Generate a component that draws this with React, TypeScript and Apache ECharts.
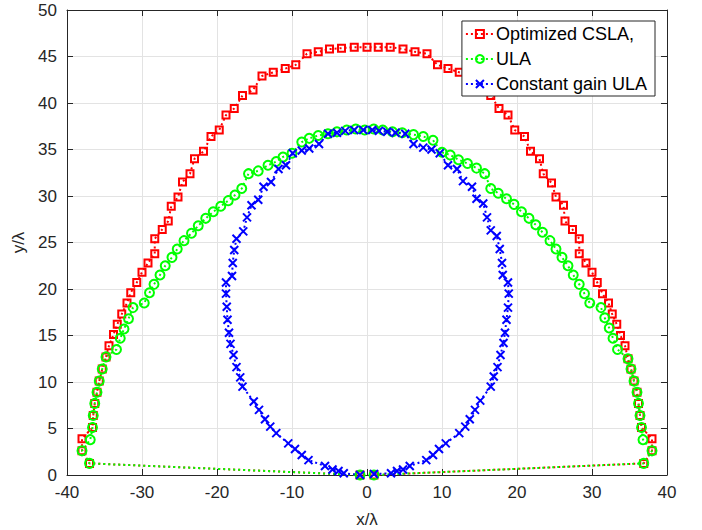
import React, { useEffect, useRef } from "react";
import * as echarts from "echarts";

const xTicks = { min: -40, max: 40, step: 10 };
const yTicks = { min: 0, max: 50, step: 5 };

const seriesNames = ["Optimized CSLA,", "ULA", "Constant gain ULA"];

const cslaPoints: number[][] = [
  [-0.93, 0], [-37.0, 1.25], [-38.0, 2.6], [-38.0, 3.9], [-36.6, 5.1], [-36.5, 6.4], [-36.3, 7.7], [-36.0, 8.9],
  [-35.7, 10.1], [-35.3, 11.4], [-34.8, 12.7], [-34.4, 13.9], [-33.8, 15.1], [-33.3, 16.2], [-32.7, 17.3],
  [-32.0, 18.5], [-31.5, 19.6], [-30.7, 20.7], [-30.0, 21.8], [-29.2, 22.8], [-28.3, 23.8], [-28.3, 25.4],
  [-27.3, 26.4], [-26.5, 27.3], [-26.1, 28.9], [-25.2, 29.9], [-24.6, 31.5], [-23.6, 32.4], [-23.0, 34.0],
  [-21.8, 34.8], [-20.8, 36.4], [-19.7, 37.1], [-18.8, 38.7], [-17.7, 39.4], [-16.6, 40.8], [-15.2, 41.4],
  [-14.0, 42.9], [-12.5, 43.3], [-10.9, 43.7], [-9.5, 44.1], [-8.0, 45.3], [-6.5, 45.5], [-5.0, 45.8],
  [-3.4, 45.9], [-1.7, 46.0], [0.0, 46.0], [1.5, 46.0], [3.1, 46.0], [4.8, 45.8], [6.4, 45.5], [8.0, 45.3],
  [9.4, 44.1], [10.8, 43.7], [12.3, 43.3], [14.0, 42.9], [15.2, 41.4], [16.5, 40.8], [17.6, 39.4], [18.8, 38.7],
  [19.7, 37.1], [21.0, 36.4], [21.8, 34.8], [23.0, 34.0], [23.5, 32.4], [24.6, 31.4], [25.2, 29.9], [26.2, 29.0],
  [26.4, 27.3], [27.4, 26.4], [28.3, 25.4], [28.3, 23.8], [29.2, 22.8], [30.0, 21.8], [30.7, 20.7], [31.4, 19.5],
  [32.2, 18.5], [32.7, 17.3], [33.3, 16.2], [33.8, 15.0], [34.4, 13.9], [34.8, 12.5], [35.2, 11.4], [35.6, 10.1],
  [36.0, 8.9], [36.2, 7.7], [36.4, 6.4], [36.6, 5.1], [38.0, 3.9], [38.0, 2.6], [36.9, 1.25], [0.93, 0],
];

const ulaPoints: number[][] = [
  [-0.93, 0], [-37.0, 1.25], [-38.0, 2.6], [-36.9, 3.8], [-36.6, 5.1], [-36.5, 6.4], [-36.3, 7.7], [-36.0, 8.9],
  [-35.7, 10.1], [-35.3, 11.4], [-34.8, 12.7], [-33.4, 13.5], [-32.9, 14.7], [-32.4, 15.7], [-31.8, 16.8],
  [-31.2, 18.0], [-29.7, 18.5], [-29.0, 19.6], [-28.4, 20.5], [-27.6, 21.5], [-26.9, 22.5], [-26.0, 23.4],
  [-25.3, 24.3], [-24.4, 25.2], [-23.4, 26.0], [-22.5, 26.8], [-21.5, 27.6], [-20.5, 28.3], [-19.5, 28.9],
  [-18.5, 29.5], [-17.6, 30.1], [-16.7, 30.8], [-15.8, 32.4], [-14.5, 32.7], [-13.2, 33.3], [-12.1, 33.7],
  [-11.2, 34.2], [-10.0, 34.6], [-8.7, 35.8], [-7.7, 36.2], [-6.5, 36.5], [-5.2, 36.7], [-4.0, 36.9],
  [-2.7, 37.1], [-1.5, 37.2], [-0.3, 37.1], [0.9, 37.2], [2.1, 37.1], [3.4, 36.9], [4.7, 36.8], [6.2, 36.6],
  [7.5, 36.4], [8.8, 36.0], [10.0, 34.7], [11.1, 34.4], [12.2, 33.9], [13.4, 33.5], [14.6, 33.0], [15.7, 32.4],
  [16.5, 30.8], [17.5, 30.3], [18.6, 29.7], [19.6, 29.1], [20.6, 28.3], [21.6, 27.6], [22.5, 26.9], [23.4, 26.1],
  [24.4, 25.2], [25.2, 24.3], [26.0, 23.4], [26.8, 22.5], [27.5, 21.5], [28.3, 20.5], [29.0, 19.5], [29.7, 18.5],
  [31.2, 18.0], [31.7, 16.9], [32.3, 15.8], [32.8, 14.7], [33.4, 13.5], [34.8, 12.5], [35.2, 11.4], [35.6, 10.1],
  [36.0, 8.9], [36.2, 7.7], [36.4, 6.4], [36.6, 5.1], [36.8, 3.8], [38.0, 2.6], [36.9, 1.25], [0.93, 0],
];

const constGainPoints: number[][] = [
  [-0.93, 0], [-3.1, 0.18], [-3.8, 0.43], [-4.6, 0.6], [-5.6, 0.97], [-7.8, 1.6], [-8.7, 2.15], [-9.6, 2.8],
  [-10.5, 3.4], [-12.1, 4.5], [-12.9, 5.2], [-13.6, 6.0], [-14.4, 7.0], [-15.1, 7.9], [-16.6, 9.5], [-16.9, 10.5],
  [-17.4, 11.6], [-17.8, 12.9], [-18.2, 14.1], [-18.4, 15.3], [-18.6, 16.7], [-18.7, 18.1], [-18.8, 19.5],
  [-18.8, 20.7], [-18.0, 21.4], [-17.9, 22.8], [-17.7, 24.2], [-17.4, 25.4], [-16.5, 26.2], [-16.0, 27.7],
  [-15.4, 29.0], [-14.5, 29.6], [-13.8, 31.0], [-12.8, 31.5], [-11.8, 32.9], [-10.8, 33.3], [-9.9, 34.6],
  [-8.7, 34.9], [-7.7, 35.1], [-6.4, 35.6], [-5.2, 36.7], [-4.0, 36.8], [-2.9, 37.0], [-1.7, 37.1], [-0.5, 37.1],
  [0.7, 37.1], [1.6, 37.0], [2.7, 36.9], [3.8, 36.8], [5.1, 36.7], [6.2, 35.6], [7.5, 35.2], [8.6, 35.0],
  [9.7, 34.6], [10.8, 33.3], [12.0, 32.9], [12.8, 31.6], [14.0, 31.0], [14.6, 29.7], [15.5, 29.2], [16.0, 27.7],
  [16.5, 26.3], [17.3, 25.7], [17.7, 24.3], [18.0, 22.8], [18.1, 21.5], [18.8, 20.7], [18.9, 19.5], [18.8, 18.0],
  [18.6, 16.7], [18.4, 15.3], [18.2, 14.2], [17.8, 12.9], [17.4, 11.6], [16.9, 10.6], [16.5, 9.5], [15.1, 8.0],
  [14.4, 7.0], [13.7, 6.0], [13.1, 5.2], [12.3, 4.5], [10.5, 3.4], [9.6, 2.8], [8.8, 2.15], [7.9, 1.6],
  [5.7, 0.97], [4.8, 0.6], [4.0, 0.43], [3.2, 0.18], [0.93, 0.1],
];

const colors = ["#ff0000", "#00ff00", "#0000ff"];
const FONT = "'Liberation Sans', Arial, Helvetica, sans-serif";
const AXIS_COLOR = "#262626";

export default function App() {
  const ref = useRef<HTMLDivElement>(null);
  useEffect(() => {
    if (!ref.current) return;
    const chart = echarts.init(ref.current, undefined, { renderer: "svg" });
    const axisCommon = {
      type: "value" as const,
      axisLine: { show: true, onZero: false, lineStyle: { color: AXIS_COLOR, width: 1 } },
      axisTick: { show: true, inside: true, length: 6, lineStyle: { color: AXIS_COLOR } },
    };
    const lineStyle = (c: string) => ({ color: c, width: 2, type: [2, 3] as any });
    chart.setOption({
      animation: false,
      backgroundColor: "#ffffff",
      textStyle: { fontFamily: FONT },
      grid: {
        left: 67,
        right: 35,
        top: 10,
        bottom: 55,
        show: false,
        containLabel: false,
        outerBoundsMode: "none",
      },
      legend: {
        orient: "vertical",
        right: 47,
        top: 21,
        data: seriesNames,
        itemWidth: 28,
        itemHeight: 10,
        itemGap: 7,
        padding: [4, 8, 3, 3],
        backgroundColor: "#ffffff",
        borderColor: AXIS_COLOR,
        borderWidth: 1,
        borderRadius: 0,
        textStyle: { fontSize: 18, color: "#000", fontFamily: FONT, padding: [0, 0, 0, -3] },
        z: 10,
      },
      xAxis: [
        {
          ...axisCommon,
          min: xTicks.min,
          max: xTicks.max,
          interval: xTicks.step,
          position: "bottom",
          axisLabel: { fontSize: 17, color: AXIS_COLOR, margin: 9, fontFamily: FONT },
          splitLine: { show: true, lineStyle: { color: "#e3e3e3", width: 1 } },
          name: "x/λ",
          nameLocation: "middle",
          nameGap: 36,
          nameTextStyle: { fontSize: 17, color: AXIS_COLOR, fontFamily: FONT },
        },
        {
          ...axisCommon,
          min: xTicks.min,
          max: xTicks.max,
          interval: xTicks.step,
          position: "top",
          axisLabel: { show: false },
          splitLine: { show: false },
        },
      ],
      yAxis: [
        {
          ...axisCommon,
          min: yTicks.min,
          max: yTicks.max,
          interval: yTicks.step,
          position: "left",
          axisLabel: { fontSize: 17, color: AXIS_COLOR, margin: 10, fontFamily: FONT },
          splitLine: { show: true, lineStyle: { color: "#e3e3e3", width: 1 } },
          name: "y/λ",
          nameLocation: "middle",
          nameGap: 37,
          nameRotate: 90,
          nameTextStyle: { fontSize: 17, color: AXIS_COLOR, fontFamily: FONT },
        },
        {
          ...axisCommon,
          min: yTicks.min,
          max: yTicks.max,
          interval: yTicks.step,
          position: "right",
          axisLabel: { show: false },
          splitLine: { show: false },
        },
      ],
      series: [
        {
          name: seriesNames[0],
          type: "line",
          data: cslaPoints,
          symbol: "rect",
          symbolSize: 7,
          showAllSymbol: true,
          lineStyle: lineStyle(colors[0]),
          itemStyle: { color: "rgba(255,255,255,0)", borderColor: colors[0], borderWidth: 2 },
          emphasis: { disabled: true },
        },
        {
          name: seriesNames[1],
          type: "line",
          data: ulaPoints,
          symbol: "circle",
          symbolSize: 9,
          showAllSymbol: true,
          lineStyle: lineStyle(colors[1]),
          itemStyle: { color: "rgba(255,255,255,0)", borderColor: colors[1], borderWidth: 2 },
          emphasis: { disabled: true },
        },
        {
          name: seriesNames[2],
          type: "line",
          data: constGainPoints,
          symbol: "path://M0,0L10,10M10,0L0,10",
          symbolSize: 8,
          showAllSymbol: true,
          lineStyle: lineStyle(colors[2]),
          itemStyle: { color: "rgba(0,0,0,0)", borderColor: colors[2], borderWidth: 2 },
          emphasis: { disabled: true },
        },
      ],
    });
    return () => chart.dispose();
  }, []);
  return (
    <div
      ref={ref}
      style={{ position: "fixed", left: 0, top: 0, width: 702, height: 530, background: "#fff" }}
    />
  );
}
